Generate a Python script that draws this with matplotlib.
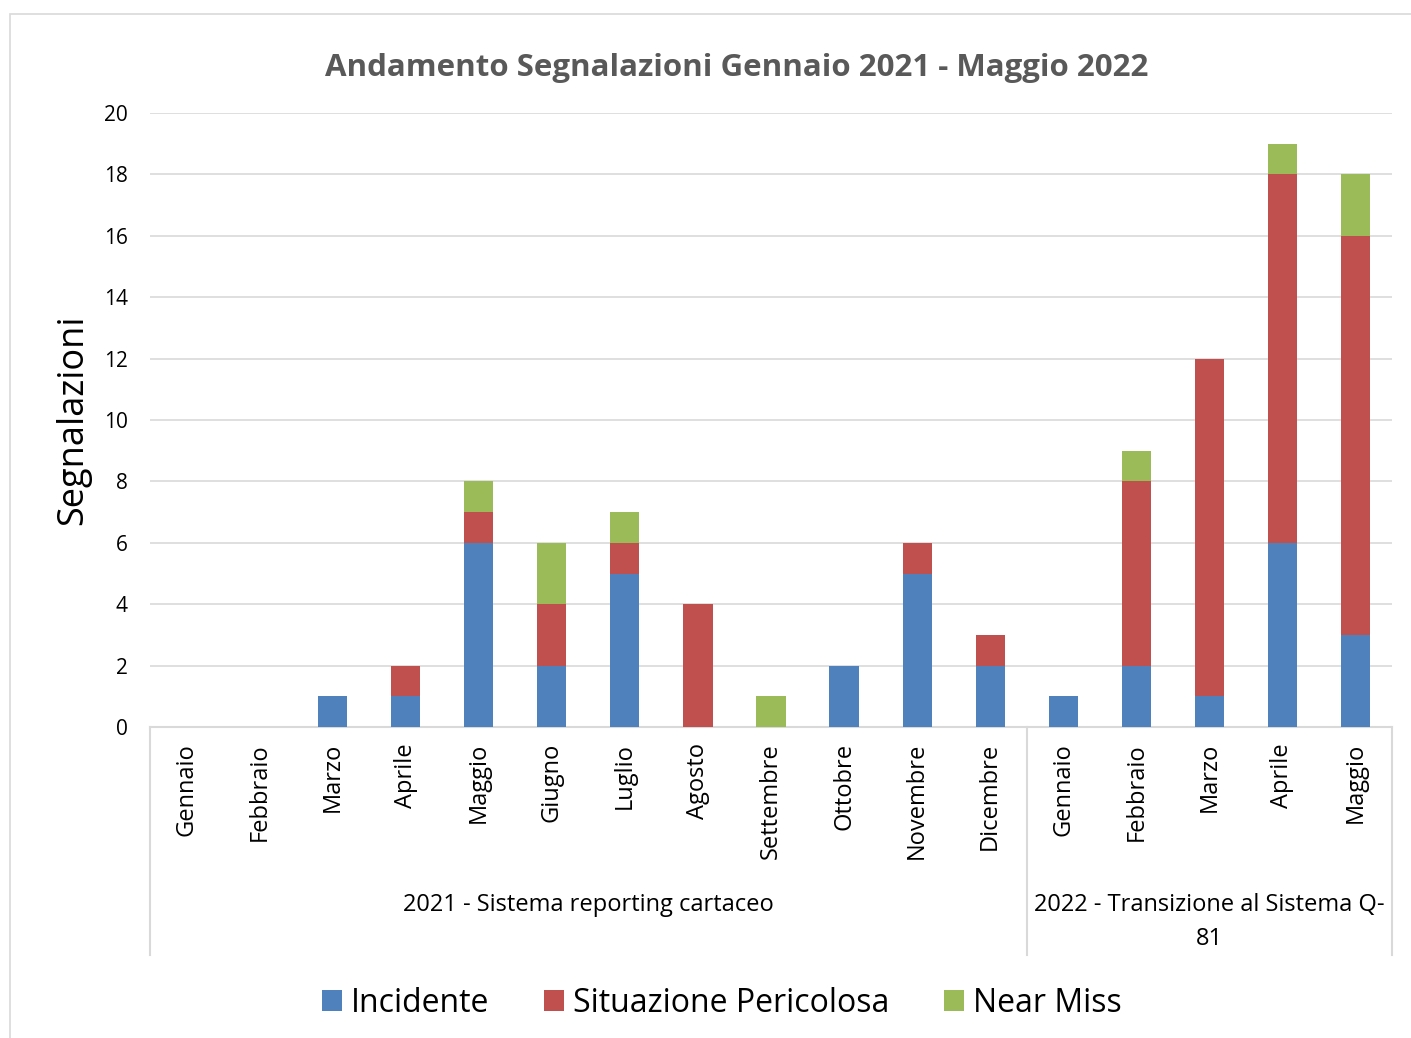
import matplotlib
matplotlib.use("Agg")
import matplotlib.pyplot as plt
import numpy as np
from matplotlib.patches import Rectangle, Patch
from matplotlib.lines import Line2D

months = ["Gennaio", "Febbraio", "Marzo", "Aprile", "Maggio", "Giugno", "Luglio",
          "Agosto", "Settembre", "Ottobre", "Novembre", "Dicembre",
          "Gennaio", "Febbraio", "Marzo", "Aprile", "Maggio"]
groups = ["2021 - Sistema reporting cartaceo", "2022 - Transizione al Sistema Q-\n81"]
group_sizes = [12, 5]
incidente = [0, 0, 1, 1, 6, 2, 5, 0, 0, 2, 5, 2, 1, 2, 1, 6, 3]
situazione = [0, 0, 0, 1, 1, 2, 1, 4, 0, 0, 1, 1, 0, 6, 11, 12, 13]
near_miss = [0, 0, 0, 0, 1, 2, 1, 0, 1, 0, 0, 0, 0, 1, 0, 1, 2]
series_names = ["Incidente", "Situazione Pericolosa", "Near Miss"]
colors = ["#4F81BD", "#C0504D", "#9BBB59"]

plt.rcParams['font.family'] = ['Open Sans', 'DejaVu Sans']

W, H = 1411, 1038
fig = plt.figure(figsize=(W / 100, H / 100), dpi=100)
fig.patches.append(Rectangle((10 / W, -0.1), 1.2, (H - 14) / H + 0.1, transform=fig.transFigure,
                             fill=False, edgecolor="#D9D9D9", linewidth=1.2))

L, R, T, B = 150, 1392, 113, 727
ax = fig.add_axes([L / W, 1 - B / H, (R - L) / W, (B - T) / H])
x = np.arange(len(months))
inc = np.array(incidente)
sit = np.array(situazione)
nm = np.array(near_miss)
bw = 0.4
ax.bar(x, inc, bw, color=colors[0], zorder=3)
ax.bar(x, sit, bw, bottom=inc, color=colors[1], zorder=3)
ax.bar(x, nm, bw, bottom=inc + sit, color=colors[2], zorder=3)

ax.set_xlim(-0.5, len(months) - 0.5)
ax.set_ylim(0, 20)
ax.set_yticks(range(0, 21, 2))
ax.yaxis.grid(True, color="#D9D9D9", linewidth=1.2, zorder=0)
ax.tick_params(axis="y", length=0, labelsize=15, pad=16)
ax.set_xticks([])
for s in ["top", "right", "left"]:
    ax.spines[s].set_visible(False)
ax.spines["bottom"].set_color("#D9D9D9")
ax.spines["bottom"].set_linewidth(1.5)
ax.set_ylabel("Segnalazioni", fontsize=26, labelpad=9)

# category labels
trans = ax.get_xaxis_transform()
for i, m in enumerate(months):
    ax.text(i, -0.026, m, rotation=90, ha="center", va="top", fontsize=17, transform=trans)

# group separators and labels
line_bottom = -(955 - 727) / (B - T)
bounds = [-0.5]
for g in group_sizes:
    bounds.append(bounds[-1] + g)
for b in bounds:
    ax.add_line(Line2D([b, b], [0, line_bottom], transform=trans, color="#D9D9D9",
                       linewidth=1.5, clip_on=False))
label_y = -(893 - 727) / (B - T)
for gi, g in enumerate(groups):
    c = (bounds[gi] + bounds[gi + 1]) / 2
    ax.text(c, label_y, g, ha="center", va="top", fontsize=17, transform=trans,
            linespacing=1.55)

fig.text(737 / W, 1 - 68 / H, "Andamento Segnalazioni Gennaio 2021 - Maggio 2022",
         ha="center", va="center", fontsize=22.5, fontweight="bold", color="#595959")

handles = [Patch(facecolor=c, edgecolor="none") for c in colors]
fig.legend(handles, series_names, loc="center", bbox_to_anchor=(722 / W, 1 - 1003 / H),
           ncol=3, frameon=False, fontsize=23, handlelength=0.62, handleheight=0.62,
           handletextpad=0.3, columnspacing=1.7)

fig.savefig("out.png", dpi=100)
